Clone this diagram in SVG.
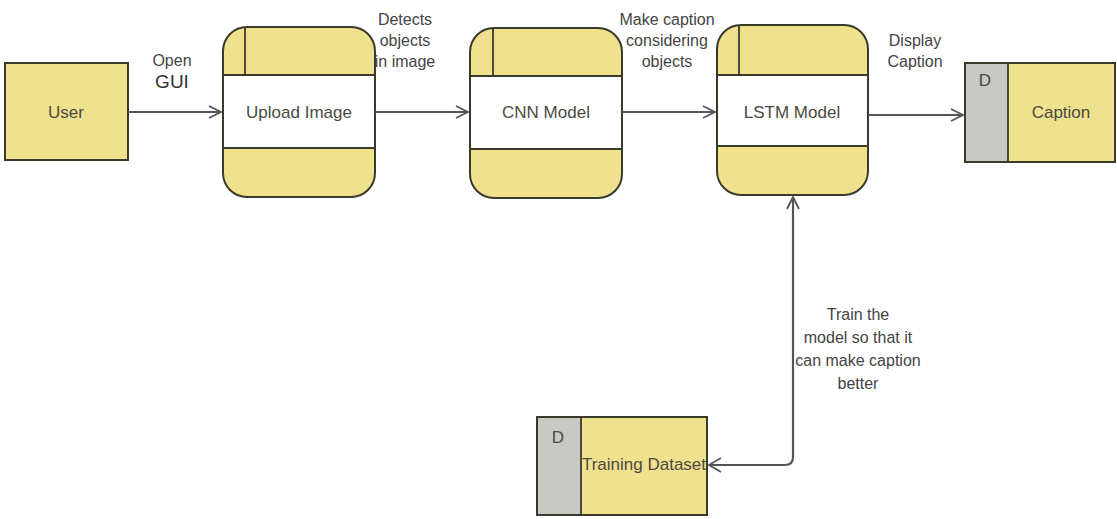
<svg xmlns="http://www.w3.org/2000/svg" width="1117" height="519" viewBox="0 0 1117 519">
  <style>
    .fill { fill: #f0e18e; }
    .edge { stroke: #3a3a2a; stroke-width: 2; fill: none; }
    .line { stroke: #3a3a2a; stroke-width: 1.8; fill: none; }
    .gray { fill: #c8c8c4; }
    .label { font-family: "Liberation Sans", Arial, sans-serif; font-size: 16px; fill: #444; text-anchor: middle; }
    .node { font-family: "Liberation Sans", Arial, sans-serif; font-size: 17px; fill: #4a4a40; text-anchor: middle; }
    .conn { stroke: #555; stroke-width: 2.2; fill: none; }
  </style>
  <defs>
    <marker id="arrow" viewBox="0 0 14 14" refX="13" refY="7" markerWidth="14" markerHeight="14" markerUnits="userSpaceOnUse" orient="auto">
      <path d="M1,1 L13,7 L1,13" fill="none" stroke="#555" stroke-width="1.8"/>
    </marker>
  </defs>
  <rect width="1117" height="519" fill="#ffffff"/>

  <!-- external entity -->
  <g id="user">
    <rect class="fill" x="5" y="63" width="123" height="97"/>
    <rect class="edge" x="5" y="63" width="123" height="97"/>
    <text class="node" x="66" y="118">User</text>
  </g>

  <!-- processes -->
  <g id="upload-image">
    <rect class="fill" x="223" y="27" width="152" height="170" rx="24"/>
    <rect x="224" y="75" width="150" height="73" fill="#ffffff"/>
    <rect class="edge" x="223" y="27" width="152" height="170" rx="24"/>
    <line class="line" x1="223" y1="75" x2="375" y2="75"/>
    <line class="line" x1="223" y1="148" x2="375" y2="148"/>
    <line class="line" x1="245" y1="27" x2="245" y2="75"/>
    <text class="node" x="299" y="118">Upload Image</text>
  </g>

  <g id="cnn-model">
    <rect class="fill" x="470" y="28" width="152" height="170" rx="24"/>
    <rect x="471" y="76" width="150" height="73" fill="#ffffff"/>
    <rect class="edge" x="470" y="28" width="152" height="170" rx="24"/>
    <line class="line" x1="470" y1="76" x2="622" y2="76"/>
    <line class="line" x1="470" y1="149" x2="622" y2="149"/>
    <line class="line" x1="493" y1="28" x2="493" y2="76"/>
    <text class="node" x="546" y="118">CNN Model</text>
  </g>

  <g id="lstm-model">
    <rect class="fill" x="717" y="25" width="151" height="170" rx="24"/>
    <rect x="718" y="75" width="149" height="71" fill="#ffffff"/>
    <rect class="edge" x="717" y="25" width="151" height="170" rx="24"/>
    <line class="line" x1="717" y1="75" x2="868" y2="75"/>
    <line class="line" x1="717" y1="146" x2="868" y2="146"/>
    <line class="line" x1="739" y1="25" x2="739" y2="75"/>
    <text class="node" x="792" y="118">LSTM Model</text>
  </g>

  <!-- data stores -->
  <g id="caption-store">
    <rect class="fill" x="965" y="63" width="150" height="99"/>
    <rect class="gray" x="965" y="63" width="43" height="99"/>
    <rect class="edge" x="965" y="63" width="150" height="99"/>
    <line class="line" x1="1008" y1="63" x2="1008" y2="162"/>
    <text class="node" x="985" y="86">D</text>
    <text class="node" x="1061" y="118">Caption</text>
  </g>

  <g id="training-dataset">
    <rect class="fill" x="537" y="417" width="170" height="98"/>
    <rect class="gray" x="537" y="417" width="44" height="98"/>
    <rect class="edge" x="537" y="417" width="170" height="98"/>
    <line class="line" x1="581" y1="417" x2="581" y2="515"/>
    <text class="node" x="558" y="443">D</text>
    <text class="node" x="644" y="470">Training Dataset</text>
  </g>

  <!-- data flows -->
  <g id="connectors">
    <line class="conn" x1="128" y1="112" x2="221" y2="112" marker-end="url(#arrow)"/>
    <line class="conn" x1="375" y1="112" x2="468" y2="112" marker-end="url(#arrow)"/>
    <line class="conn" x1="622" y1="112" x2="715" y2="112" marker-end="url(#arrow)"/>
    <line class="conn" x1="868" y1="115" x2="963" y2="115" marker-end="url(#arrow)"/>
    <path class="conn" d="M709,465 L785,465 Q793,465 793,457 L793,197" marker-end="url(#arrow)"/>
    <path d="M721,458 L709,465 L721,472" fill="none" stroke="#555" stroke-width="1.8"/>

    <text class="label" x="172" y="66">Open</text>
    <text class="label" x="172" y="88" style="font-size:19px;fill:#333">GUI</text>
    <text class="label" x="405" y="25">Detects</text>
    <text class="label" x="405" y="46">objects</text>
    <text class="label" x="405" y="67">in image</text>
    <text class="label" x="667" y="25">Make caption</text>
    <text class="label" x="667" y="46">considering</text>
    <text class="label" x="667" y="67">objects</text>
    <text class="label" x="915" y="46">Display</text>
    <text class="label" x="915" y="67">Caption</text>
    <text class="label" x="858" y="320">Train the</text>
    <text class="label" x="858" y="343">model so that it</text>
    <text class="label" x="858" y="366">can make caption</text>
    <text class="label" x="858" y="389">better</text>
  </g>
</svg>
